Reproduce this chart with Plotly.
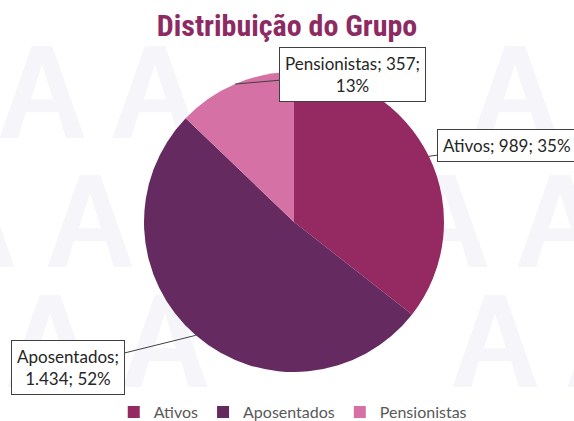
import math
import plotly.graph_objects as go

# ---- data ----
categories = ["Ativos", "Aposentados", "Pensionistas"]
values = [989, 1434, 357]
value_labels = ["989", "1.434", "357"]
pct_labels = ["35%", "52%", "13%"]
colors = ["#952A62", "#652A5F", "#D571A4"]

W, H = 574, 421
CX, CY, R = 294, 222, 150  # pie centre / radius in px

fig = go.Figure()
fig.add_trace(go.Pie(
    labels=categories, values=values, sort=False, direction="clockwise",
    rotation=0, textinfo="none", hoverinfo="label+value+percent",
    marker=dict(colors=colors, line=dict(width=0)),
    domain=dict(x=[(CX - R) / W, (CX + R) / W], y=[1 - (CY + R) / H, 1 - (CY - R) / H]),
))

# callout box centres (px) for each category
box_centres = {"Ativos": (507, 145), "Aposentados": (68, 367), "Pensionistas": (352, 74)}
label_text = {
    "Ativos": "{}; {}; {}",
    "Aposentados": "{};<br>{}; {}",
    "Pensionistas": "{}; {};<br>{}",
}
total = sum(values)
cum = 0
annotations = []
for cat, v, vl, pl in zip(categories, values, value_labels, pct_labels):
    mid = (cum + v / 2) / total * 2 * math.pi
    cum += v
    tx = CX + R * math.sin(mid)
    ty = CY - R * math.cos(mid)
    bx, by = box_centres[cat]
    annotations.append(dict(
        x=tx / W, y=1 - ty / H, xref="paper", yref="paper",
        ax=bx - tx, ay=by - ty, axref="pixel", ayref="pixel",
        text=label_text[cat].format(cat, vl, pl),
        showarrow=True, arrowhead=0, arrowwidth=1, arrowcolor="#404040",
        bordercolor="#404040", borderwidth=1, borderpad=5, bgcolor="white",
        font=dict(family="Lato, Carlito, sans-serif", size=17, color="#262626"),
        align="center",
    ))

# faint watermark "A" letters drawn below the pie
def a_path(cx, cy, w=85, h=92):
    def p(u, v):
        return f"{(cx - w / 2 + u * w) / W:.5f},{1 - (cy + h / 2 - v * h) / H:.5f}"
    outer = [(0, 0), (0.38, 1), (0.62, 1), (1, 0), (0.78, 0), (0.69, 0.28), (0.31, 0.28), (0.22, 0)]
    hole = [(0.37, 0.42), (0.5, 0.80), (0.63, 0.42)]
    s = "M" + " L".join(p(u, v) for u, v in outer) + " Z "
    s += "M" + " L".join(p(u, v) for u, v in hole) + " Z"
    return s

wm = [(42, 92), (155, 92), (515, 92), (615, 92),
      (-28, 221), (90, 221), (445, 221), (560, 221),
      (50, 341), (165, 341), (495, 341), (610, 341)]
shapes = [dict(type="path", path=a_path(x, y), xref="paper", yref="paper",
               fillcolor="#F6F5F9", line=dict(width=0), layer="below")
          for x, y in wm]

fig.update_layout(
    width=W, height=H, margin=dict(l=0, r=0, t=0, b=0, autoexpand=False),
    paper_bgcolor="white", plot_bgcolor="white",
    title=dict(text="<b>Distribuição do Grupo</b>", x=0.5, xanchor="center",
               y=1 - 25 / H, yanchor="middle",
               font=dict(family="Roboto Condensed, Liberation Sans Narrow, Roboto, sans-serif",
                         size=30, color="#8E2A62")),
    showlegend=True,
    legend=dict(orientation="h", x=0.51, xanchor="center", y=9 / H, yanchor="middle",
                font=dict(family="Lato, Carlito, sans-serif", size=16, color="#595959"),
                bgcolor="rgba(0,0,0,0)"),
    annotations=annotations, shapes=shapes,
)

fig.write_html("out.html", config={"displayModeBar": False},
               post_script="document.body.style.margin='0';document.body.style.overflow='hidden';")
